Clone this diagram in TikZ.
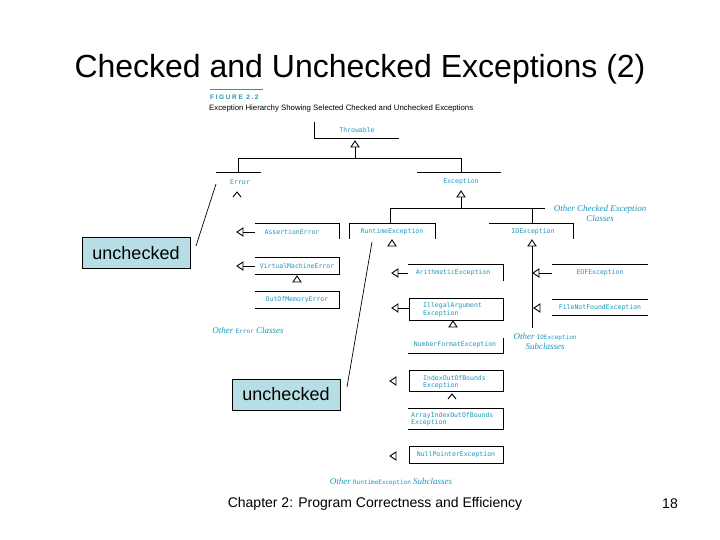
\documentclass[tikz,border=0pt]{standalone}
\usepackage{fontspec}
\setmainfont{Liberation Sans}
\newfontfamily\clsfont{DejaVu Sans Mono}
\newfontfamily\figserif{Liberation Serif}
\usetikzlibrary{arrows.meta}
\definecolor{figteal}{RGB}{30,150,190}
\definecolor{callfill}{RGB}{183,222,228}
\newcommand\othcname[1]{{\clsfont\upshape\fontsize{6}{7}\selectfont #1}}
\begin{document}
\begin{tikzpicture}[x=1pt,y=-1pt,
  ln/.style={line width=0.9pt},
  cls/.style={font=\clsfont\fontsize{6.5}{7.4}\selectfont, text=figteal, inner sep=0pt},
  clsl/.style={cls, align=left, anchor=west},
  oth/.style={font=\figserif\itshape\fontsize{9}{10}\selectfont, text=figteal, inner sep=0pt},
  triU/.pic={\draw[line width=0.9pt,fill=white] (0,0) -- (4,6) -- (-4,6) -- cycle;},
  triL/.pic={\draw[line width=0.9pt,fill=white] (0,0) -- (6,-4) -- (6,4) -- cycle;},
  caret/.pic={\draw[line width=0.9pt] (-4,5) -- (0,0) -- (4,5);},
  callout/.style={draw=black, line width=0.8pt, fill=callfill, minimum width=108pt, minimum height=31pt, inner sep=0pt, font=\fontsize{18}{20}\selectfont}
]
\useasboundingbox (0,0) rectangle (720,540);
\fill[white] (0,0) rectangle (720,540);

% title and footer
\node (title) at (360,69) {\fontsize{32}{35}\selectfont Checked and Unchecked Exceptions (2)};
\node (footer) at (375,504) {\fontsize{14}{16}\selectfont Chapter 2: Program Correctness and Efficiency};
\node (page) at (670,504) {\fontsize{14}{16}\selectfont 18};

% figure header
\draw[figteal, line width=1pt] (210,90) -- (263,90);
\node[anchor=west, inner sep=0pt, text=figteal] (fig) at (210,97) {\fontsize{6.5}{7.5}\selectfont\bfseries\addfontfeatures{LetterSpace=25}FIGURE 2.2};
\node[anchor=west, inner sep=0pt] (cap) at (209,108) {\fontsize{7.8}{9}\selectfont Exception Hierarchy Showing Selected Checked and Unchecked Exceptions};

% Throwable
\draw[ln] (314,122) -- (314,138) -- (399,138);
\node[cls] (thr) at (357,130) {Throwable};
\pic at (355,141) {triU};
\draw[ln] (355,147) -- (355,158);
\draw[ln] (238,172) -- (238,158) -- (461,158) -- (461,172);

% Error
\draw[ln] (216,172) -- (261,172);
\node[cls] (err) at (240,182) {Error};
\pic at (237,192) {caret};

% Exception
\draw[ln] (417,172) -- (501,172);
\node[cls] (exc) at (461,182) {Exception};
\pic at (461,191) {triU};
\draw[ln] (461,197) -- (461,208);
\draw[ln] (390,223) -- (390,208) -- (545,208);
\draw[ln] (532,208) -- (532,223);
\node[oth, align=center] (othchk) at (600,213) {Other Checked Exception\\Classes};

% AssertionError
\draw[ln] (255,223) -- (339,223) -- (339,239);
\node[cls] (ass) at (292,232) {AssertionError};
\pic at (237,232) {triL};
\draw[ln] (243,232) -- (255,232);

% VirtualMachineError
\draw[ln] (255,257) -- (339,257) -- (339,274) -- (255,274);
\node[cls] (vme) at (297,266) {VirtualMachineError};
\pic at (237,266) {triL};
\draw[ln] (243,266) -- (255,266);
\pic at (297,276) {triU};

% OutOfMemoryError
\draw[ln] (255,291) -- (339,291) -- (339,308) -- (255,308);
\node[cls] (oom) at (297,300) {OutOfMemoryError};
\node[oth] (otherr) at (248,330) {Other \othcname{Error} Classes};

% RuntimeException
\draw[ln] (349,239) -- (349,223) -- (435,223) -- (435,239);
\node[cls] (rte) at (392,232) {RuntimeException};
\pic at (392,240) {triU};

% IOException
\draw[ln] (489,223) -- (573,223) -- (573,239);
\node[cls] (ioe) at (533,232) {IOException};
\pic at (532,240) {triU};
\draw[ln] (532,246) -- (532,328);

% ArithmeticException
\draw[ln] (408,264) -- (503,264) -- (503,281);
\node[cls] (ari) at (453,273) {ArithmeticException};
\pic at (392,273) {triL};
\draw[ln] (398,273) -- (408,273);

% IllegalArgumentException
\draw[ln] (409,298) rectangle (503,320);
\node[clsl] (iae) at (423,309.5) {IllegalArgument\\Exception};
\pic at (392,308) {triL};
\draw[ln] (398,308) -- (409,308);
\pic at (453,321) {triU};

% NumberFormatException
\draw[ln] (408,353) -- (503,353) -- (503,338);
\node[cls] (nfe) at (455,345) {NumberFormatException};

% IndexOutOfBoundsException
\draw[ln] (409,370) rectangle (503,391);
\node[clsl] (ioob) at (423,382) {IndexOutOfBounds\\Exception};
\pic at (390,381) {triL};
\pic at (452,394) {caret};

% ArrayIndexOutOfBoundsException
\draw[ln] (408,408) -- (503,408) -- (503,429) -- (408,429);
\node[clsl] (aioob) at (411,419.5) {ArrayIndexOutOfBounds\\Exception};

% NullPointerException
\draw[ln] (409,446) rectangle (503,463);
\node[cls] (npe) at (456,455) {NullPointerException};
\pic at (390,456) {triL};
\node[oth] (othrt) at (391,482) {Other \othcname{RuntimeException} Subclasses};

% EOFException
\draw[ln] (552,264) -- (648,264);
\node[cls] (eof) at (600,273) {EOFException};
\pic at (533,273) {triL};
\draw[ln] (539,273) -- (552,273);

% FileNotFoundException
\draw[ln] (552,299) -- (648,299);
\draw[ln] (552,315) -- (648,315);
\node[cls] (fnf) at (600,308) {FileNotFoundException};
\pic at (534,308) {triL};
\node[oth, align=center] (othio) at (545,341) {Other \othcname{IOException}\\Subclasses};

% callouts
\node[callout] (u1) at (136,253) {unchecked};
\node[callout] (u2) at (286,394.5) {unchecked};
\coordinate (u1a) at (196,246);
\coordinate (u1b) at (216,184);
\coordinate (u2a) at (347,387);
\coordinate (u2b) at (372,242);
\draw[line width=0.7pt] (u1a) -- (u1b);
\draw[line width=0.7pt] (u2a) -- (u2b);
\end{tikzpicture}
\end{document}
